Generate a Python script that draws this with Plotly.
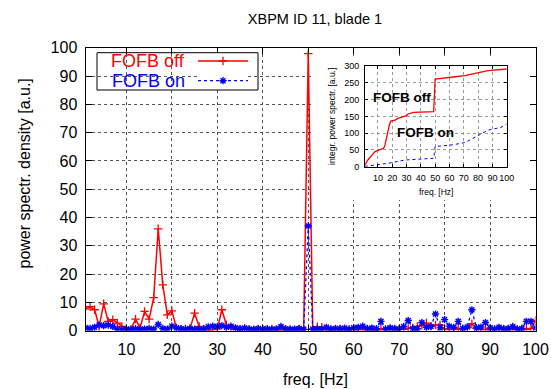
import plotly.graph_objects as go

W, H = 551, 389

freq = list(range(1, 101))

psd_fofb_off = [
    7.7, 8.5, 7.4, 1.5, 9.5, 3.3, 3.9, 2.7, 1.5, 0.6,
    0.4, 4.1, 1.0, 6.8, 4.1, 11.7, 36.0, 16.2, 5.6, 7.0,
    1.0, 0.5, 0.6, 0.8, 6.2, 1.5, 0.5, 0.3, 0.4, 0.6,
    7.4, 2.0, 0.8, 0.5, 0.4, 0.7, 0.5, 0.3, 0.4, 0.5,
    0.3, 0.6, 0.4, 0.3, 0.5, 0.4, 0.3, 0.5, 0.4, 97.9,
    0.5, 1.4, 1.2, 0.3, 0.4, 0.5, 0.6, 0.3, 0.4, 0.5,
    0.3, 0.6, 0.4, 0.5, 0.3, 0.6, 0.4, 0.5, 0.4, 0.6,
    0.5, 0.8, 1.0, 1.5, 1.8, 2.7, 1.6, 2.0, 2.0, 0.6,
    0.4, 0.5, 0.8, 0.6, 1.0, 2.5, 0.8, 0.5, 0.4, 0.6,
    0.5, 0.4, 0.6, 0.5, 0.4, 0.5, 0.6, 0.5, 0.8, 3.6,
]

psd_fofb_on = [
    1.0, 0.8, 1.2, 2.0, 1.8, 2.0, 1.5, 0.5, 0.4, 0.6,
    0.5, 0.7, 0.5, 0.6, 0.8, 0.6, 2.2, 0.8, 0.6, 1.6,
    1.0, 0.7, 0.6, 0.8, 0.5, 0.6, 0.7, 1.4, 1.6, 1.5,
    1.8, 1.2, 1.6, 1.0, 0.7, 0.9, 0.6, 0.5, 0.8, 0.6,
    0.7, 0.5, 0.6, 1.5, 0.7, 0.5, 0.6, 0.8, 0.5, 37.0,
    0.6, 0.7, 0.5, 1.2, 0.6, 0.8, 0.7, 0.9, 0.5, 1.0,
    1.2, 1.6, 0.8, 0.9, 0.7, 3.3, 0.6, 1.0, 0.8, 0.5,
    1.5, 3.6, 0.8, 0.7, 2.9, 1.2, 1.5, 5.9, 1.0, 3.9,
    1.6, 1.2, 3.3, 0.8, 1.3, 7.4, 1.0, 1.3, 2.9, 1.0,
    0.6, 1.2, 0.7, 0.8, 1.5, 0.6, 0.8, 3.3, 3.3, 1.0,
]

# integrated power spectrum (inset)
inset_freq_off = [1, 3, 6, 8, 11, 14, 15, 16.5, 18, 19, 22, 24, 27, 30, 31, 35, 49, 50, 64, 71, 78, 81, 87, 100]
inset_integ_off = [5, 20, 35, 45, 50, 55, 65, 99, 124, 136, 139, 144, 149, 152, 157, 162, 164, 261, 268, 271, 278, 281, 286, 291]
inset_freq_on = [1, 17, 29, 49, 50, 62, 71, 78, 87, 96, 100]
inset_integ_on = [1, 10, 20, 25, 60, 65, 72, 88, 109, 117, 127]

main_yticks = list(range(0, 101, 10))
main_xticks = list(range(10, 101, 10))
inset_yticks = list(range(0, 301, 50))
inset_xticks = list(range(10, 101, 10))

RED = "#ff0000"
BLUE = "#0000ff"
FONT = "Liberation Sans, Arial, sans-serif"


def px(x):
    return x / W


def py(y):
    return 1 - y / H


fig = go.Figure()

# main traces
fig.add_trace(go.Scatter(
    x=freq, y=psd_fofb_off, mode="lines+markers", name="FOFB off",
    line=dict(color=RED, width=1.5),
    marker=dict(symbol="cross-thin-open", size=6, color=RED, line=dict(color=RED, width=1.3)),
    xaxis="x", yaxis="y", showlegend=False))
fig.add_trace(go.Scatter(
    x=freq, y=psd_fofb_on, mode="lines+markers", name="FOFB on",
    line=dict(color=BLUE, width=1.3, dash="dot"),
    marker=dict(symbol="asterisk-open", size=6, color=BLUE, line=dict(color=BLUE, width=1.4)),
    xaxis="x", yaxis="y", showlegend=False))

# white box subplot (covers main plot under inset)
fig.add_trace(go.Scatter(x=[], y=[], xaxis="x2", yaxis="y2", showlegend=False))

# inset traces
fig.add_trace(go.Scatter(
    x=inset_freq_off, y=inset_integ_off, mode="lines", line=dict(color=RED, width=1.3),
    xaxis="x3", yaxis="y3", showlegend=False))
fig.add_trace(go.Scatter(
    x=inset_freq_on, y=inset_integ_on, mode="lines", line=dict(color=BLUE, width=1, dash="dot"),
    xaxis="x3", yaxis="y3", showlegend=False))

# legend samples
fig.add_trace(go.Scatter(x=[0, 1], y=[0.777, 0.777], mode="lines",
                         line=dict(color=RED, width=1.5), xaxis="x4", yaxis="y4", showlegend=False))
fig.add_trace(go.Scatter(x=[0.5], y=[0.777], mode="markers",
                         marker=dict(symbol="cross-thin-open", size=6, color=RED, line=dict(color=RED, width=1.3)),
                         xaxis="x4", yaxis="y4", showlegend=False))
fig.add_trace(go.Scatter(x=[0, 1], y=[0.249, 0.249], mode="lines",
                         line=dict(color=BLUE, width=1.3, dash="dot"), xaxis="x4", yaxis="y4", showlegend=False))
fig.add_trace(go.Scatter(x=[0.5], y=[0.249], mode="markers",
                         marker=dict(symbol="asterisk-open", size=6, color=BLUE, line=dict(color=BLUE, width=1.4)),
                         xaxis="x4", yaxis="y4", showlegend=False))

main_ax = dict(showline=True, linecolor="black", linewidth=1, mirror="ticks",
               ticks="inside", ticklen=6, tickcolor="black", tickwidth=1,
               showgrid=True, gridcolor="#555", griddash="dot", gridwidth=1,
               zeroline=False, automargin=False, tickangle=0,
               tickfont=dict(family=FONT, size=16, color="black"))

inset_ax = dict(showline=True, linecolor="black", linewidth=1, mirror="ticks",
                ticks="inside", ticklen=3, tickcolor="black", tickwidth=1,
                showgrid=True, gridcolor="#999", griddash="dot", gridwidth=1,
                zeroline=False, automargin=False, tickangle=0,
                tickfont=dict(family=FONT, size=9, color="black"))

hidden = dict(visible=False, range=[0, 1], fixedrange=True, automargin=False)

fig.update_layout(
    width=W, height=H, autosize=False,
    margin=dict(l=0, r=0, t=0, b=0, pad=0, autoexpand=False),
    paper_bgcolor="white", plot_bgcolor="white",
    font=dict(family=FONT, color="black"),
    title=dict(text="XBPM ID 11, blade 1", x=px(315), y=py(19), xanchor="center", yanchor="middle",
               xref="paper", yref="paper", automargin=False,
               font=dict(family=FONT, size=14.5, color="black")),
    xaxis=dict(domain=[px(85.5), px(535.5)], range=[1, 100], tickvals=main_xticks,
               anchor="y", ticklabelstandoff=4, **main_ax),
    yaxis=dict(domain=[py(330.7), py(47.7)], range=[0, 100], tickvals=main_yticks,
               anchor="x", ticklabelstandoff=4, **main_ax),
    xaxis2=dict(domain=[px(314), px(529)], anchor="y2", **hidden),
    yaxis2=dict(domain=[py(200), py(56)], anchor="x2", **hidden),
    xaxis3=dict(domain=[px(365), px(506.7)], range=[1, 100], tickvals=inset_xticks,
                anchor="y3", ticklabelstandoff=2, **inset_ax),
    yaxis3=dict(domain=[py(166.7), py(66)], range=[0, 300], tickvals=inset_yticks,
                anchor="x3", ticklabelstandoff=3, **inset_ax),
    xaxis4=dict(domain=[px(198), px(248)], anchor="y4", **hidden),
    yaxis4=dict(domain=[py(90), py(52.7)], anchor="x4", **hidden),
)

shapes = [
    dict(type="rect", xref="x2", yref="y2", x0=0, x1=1, y0=0, y1=1,
         fillcolor="white", line=dict(width=0), layer="below"),
    dict(type="rect", xref="paper", yref="paper", x0=px(97), x1=px(258), y0=py(90), y1=py(52.7),
         line=dict(color="black", width=1), fillcolor="rgba(0,0,0,0)", layer="above"),
]
fig.update_layout(shapes=shapes)

ann = [
    dict(text="freq. [Hz]", x=px(315), y=py(379), xref="paper", yref="paper",
         showarrow=False, xanchor="center", yanchor="middle", font=dict(size=16, family=FONT)),
    dict(text="power spectr. density [a.u.]", x=px(24), y=py(173.5), xref="paper", yref="paper",
         showarrow=False, textangle=-90, xanchor="center", yanchor="middle", font=dict(size=16, family=FONT)),
    dict(text="FOFB off", x=px(187), y=py(61), xref="paper", yref="paper", showarrow=False,
         xanchor="right", yanchor="middle", font=dict(size=18, family=FONT, color=RED)),
    dict(text="FOFB on", x=px(187), y=py(80.7), xref="paper", yref="paper", showarrow=False,
         xanchor="right", yanchor="middle", font=dict(size=18, family=FONT, color=BLUE)),
    dict(text="<b>FOFB off</b>", x=px(402), y=py(97.5), xref="paper", yref="paper", showarrow=False,
         xanchor="center", yanchor="middle", font=dict(size=13.5, family=FONT, color="black")),
    dict(text="<b>FOFB on</b>", x=px(425), y=py(133), xref="paper", yref="paper", showarrow=False,
         xanchor="center", yanchor="middle", font=dict(size=13.5, family=FONT, color="black")),
    dict(text="freq. [Hz]", x=px(436), y=py(192), xref="paper", yref="paper", showarrow=False,
         xanchor="center", yanchor="middle", font=dict(size=8.5, family=FONT)),
    dict(text="integr. power spectr. [a.u.]", x=px(332), y=py(117), xref="paper", yref="paper",
         showarrow=False, textangle=-90, xanchor="center", yanchor="middle", font=dict(size=8.5, family=FONT)),
]
fig.update_layout(annotations=ann)

fig.write_html("out.html")
